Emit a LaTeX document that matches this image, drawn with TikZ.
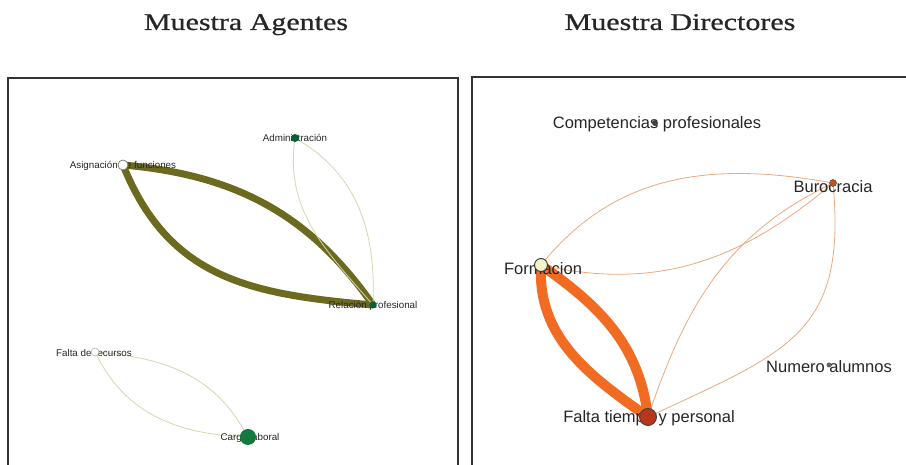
\documentclass[tikz,border=0pt]{standalone}
\usepackage{fontspec}
\newfontfamily\grafo{Liberation Sans}
\newfontfamily\titulofont[FakeStretch=1.25,FakeBold=0.7]{Liberation Serif}
\usetikzlibrary{backgrounds}

\definecolor{oliva}{HTML}{6B6A1E}
\definecolor{olivaclara}{HTML}{D6D5B2}
\definecolor{naranja}{HTML}{F26B22}
\definecolor{naranjaclara}{HTML}{E9A97E}
\definecolor{verdeosc}{HTML}{0B5E35}
\definecolor{verde}{HTML}{127A3C}
\definecolor{crema}{HTML}{F4F2C8}
\definecolor{rojizo}{HTML}{B8361C}
\definecolor{marron}{HTML}{C0541E}

\begin{document}
\begin{tikzpicture}[x=1pt,y=1pt,
  titulo/.style={font=\titulofont\fontsize{24}{28}\selectfont, anchor=base, inner sep=0pt, text=black!85},
  marco/.style={line width=1.3pt, draw=black!80},
  etqA/.style={font=\grafo\fontsize{9.8}{11}\selectfont, inner sep=0pt, text=black!85},
  etqD/.style={font=\grafo\fontsize{16.5}{19}\selectfont, inner sep=0pt, text=black!85},
  punto/.style={circle, inner sep=0pt, minimum size=#1},
  gruesaA/.style={draw=oliva, line width=7pt},
  finaA/.style={draw=olivaclara, line width=0.8pt},
  gruesaD/.style={draw=naranja, line width=10pt},
  finaD/.style={draw=naranjaclara, line width=0.8pt}]
\useasboundingbox (0,0) rectangle (906,465);

% Titulos
\node[titulo] (tA) at (246,435) {Muestra Agentes};
\node[titulo] (tD) at (680,435) {Muestra Directores};

% Marcos (sin borde inferior, cortados por la pagina)
\draw[marco] (8,0) -- (8,387) -- (458,387) -- (458,0);
\draw[marco] (472,0) -- (472,388) -- (906,388);

% Muestra Agentes
\node[etqA] (adm-l) at (295,327) {Administración};
\node[etqA] (asig-l) at (123,299) {Asignación de funciones};
\node[etqA] (rel-l) at (373,159) {Relación profesional};
\node[etqA] (falta-l) at (94,112) {Falta de recursos};
\node[etqA] (carga-l) at (250,27) {Carga laboral};
\node[punto=8pt, fill=verdeosc] (adm) at (295,327) {};
\node[punto=10pt, fill=white, draw=gray, line width=0.8pt] (asig) at (123,300) {};
\node[punto=7pt, fill=verdeosc] (rel) at (373,160) {};
\node[punto=8pt, fill=white, draw=gray!60, line width=0.6pt] (falta) at (95,113) {};
\node[punto=16pt, fill=verde] (carga) at (248,28) {};

% Muestra Directores
\node[etqD] (comp-l) at (657,341) {Competencias profesionales};
\node[etqD] (buro-l) at (833,278) {Burocracia};
\node[etqD] (form-l) at (543,196) {Formacion};
\node[etqD] (tiempo-l) at (649,47) {Falta tiempo y personal};
\node[etqD] (num-l) at (829,98) {Numero alumnos};
\node[punto=6pt, fill=black!75] (comp) at (655,342) {};
\node[punto=7pt, fill=marron, draw=black!70, line width=0.5pt] (buro) at (833,282) {};
\node[punto=13pt, fill=crema, draw=black!80, line width=0.9pt] (form) at (541,200) {};
\node[punto=17pt, fill=rojizo, draw=black!75, line width=0.9pt] (tiempo) at (648,48) {};
\node[punto=5pt, fill=black!60] (num) at (829,100) {};

% Aristas, debajo de los nodos
\begin{scope}[on background layer]
\draw[gruesaA] (asig.center) to[out=-5,in=125] (rel.center); % arco superior
\draw[gruesaA] (asig.center) to[out=-68,in=175,looseness=1.1] (rel.center); % arco inferior
\draw[finaA] (adm) to[out=-97,in=131] (rel);
\draw[finaA] (adm) to[out=-31,in=88] (rel);
\draw[finaA] (falta) to[out=-5,in=120] (carga);
\draw[finaA] (falta) to[out=-63,in=177] (carga);

\draw[gruesaD] (form.center) to[out=-93,in=145] (tiempo.center); % arco izquierdo
\draw[gruesaD] (form.center) to[out=-35,in=97] (tiempo.center); % arco derecho
\draw[finaD] (form) to[out=50,in=170] (buro);
\draw[finaD] (form) to[out=-12,in=220] (buro);
\draw[finaD] (buro) to[out=206,in=71] (tiempo);
\draw[finaD] (buro) to[out=-85,in=25,looseness=1.3] (tiempo);
\end{scope}

\end{tikzpicture}
\end{document}
